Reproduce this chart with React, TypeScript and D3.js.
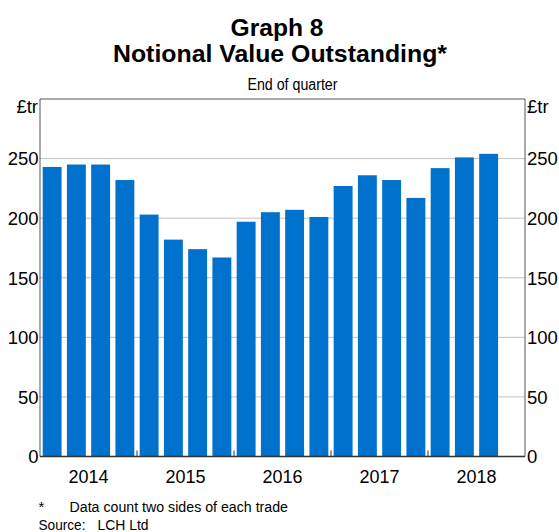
import React from "react";
import * as d3 from "d3";

const quarters = [
  "2014Q1","2014Q2","2014Q3","2014Q4",
  "2015Q1","2015Q2","2015Q3","2015Q4",
  "2016Q1","2016Q2","2016Q3","2016Q4",
  "2017Q1","2017Q2","2017Q3","2017Q4",
  "2018Q1","2018Q2","2018Q3","2018Q4",
];
const values = [243, 245, 245, 232, 203, 182, 174, 167, 197, 205, 207, 201, 227, 236, 232, 217, 242, 251, 254];
const years = ["2014", "2015", "2016", "2017", "2018"];
const yTicks = [0, 50, 100, 150, 200, 250];

const W = 559;
const H = 532;
const left = 40;
const right = 525;
const top = 99;
const bottom = 456.5;
const FONT = "Arial, 'Liberation Sans', Helvetica, sans-serif";
const BLUE = "#0072ce";

export default function App() {
  const x = d3.scaleBand<string>().domain(quarters).range([left, right]).padding(0);
  const y = d3.scaleLinear().domain([0, 300]).range([bottom, top]);
  const bw = x.bandwidth() * 0.78;

  return (
    <svg width={W} height={H} style={{ position: "absolute", left: 0, top: 0 }} fontFamily={FONT}>
      <rect x={0} y={0} width={W} height={H} fill="#fff" />
      {/* titles */}
      <text x={277} y={36} textAnchor="middle" fontSize={23} fontWeight="bold" textLength={93} lengthAdjust="spacingAndGlyphs">Graph 8</text>
      <text x={280} y={62} textAnchor="middle" fontSize={23} fontWeight="bold" textLength={334} lengthAdjust="spacingAndGlyphs">Notional Value Outstanding*</text>
      <text x={292.5} y={90} textAnchor="middle" fontSize={16} textLength={90} lengthAdjust="spacingAndGlyphs">End of quarter</text>

      {/* gridlines */}
      {yTicks.filter((t) => t > 0).map((t) => (
        <line key={t} x1={left} x2={right} y1={y(t)} y2={y(t)} stroke="#c0c0c0" strokeWidth={1} />
      ))}

      {/* bars */}
      {values.map((v, i) => {
        const q = quarters[i];
        const cx = (x(q) as number) + x.bandwidth() / 2;
        return <rect key={q} x={cx - bw / 2} y={y(v)} width={bw} height={y(0) - y(v)} fill={BLUE} />;
      })}

      {/* frame */}
      <line x1={left} x2={right} y1={top} y2={top} stroke="#555" strokeWidth={1} />
      <line x1={left} x2={left} y1={top} y2={bottom} stroke="#555" strokeWidth={1} />
      <line x1={right} x2={right} y1={top} y2={bottom} stroke="#555" strokeWidth={1} />
      <line x1={left} x2={right} y1={bottom} y2={bottom} stroke="#333" strokeWidth={1.5} />

      {/* year ticks */}
      {years.slice(1).map((yr) => {
        const xx = x(yr + "Q1") as number;
        return <line key={yr} x1={xx} x2={xx} y1={bottom} y2={bottom - 6} stroke="#333" strokeWidth={1} />;
      })}
      {years.map((yr) => {
        const xx = (x(yr + "Q1") as number) + 2 * x.bandwidth();
        return (
          <text key={yr} x={xx} y={482.5} textAnchor="middle" fontSize={18} textLength={40} lengthAdjust="spacingAndGlyphs">{yr}</text>
        );
      })}

      {/* y labels */}
      {yTicks.map((t) => (
        <g key={t}>
          <text x={38.5} y={y(t) + 6.8} textAnchor="end" fontSize={18.5}>{t}</text>
          <text x={527} y={y(t) + 6.8} textAnchor="start" fontSize={18.5}>{t}</text>
        </g>
      ))}
      <text x={38} y={113} textAnchor="end" fontSize={18.5}>£tr</text>
      <text x={527} y={113} textAnchor="start" fontSize={18.5}>£tr</text>

      {/* footnotes */}
      <text x={38.5} y={511.5} fontSize={15}>*</text>
      <text x={69.5} y={511.5} fontSize={15.5} textLength={218.5} lengthAdjust="spacingAndGlyphs">Data count two sides of each trade</text>
      <text x={38.5} y={530} fontSize={15.5} textLength={47} lengthAdjust="spacingAndGlyphs">Source:</text>
      <text x={97.5} y={530} fontSize={15.5} textLength={51} lengthAdjust="spacingAndGlyphs">LCH Ltd</text>
    </svg>
  );
}
